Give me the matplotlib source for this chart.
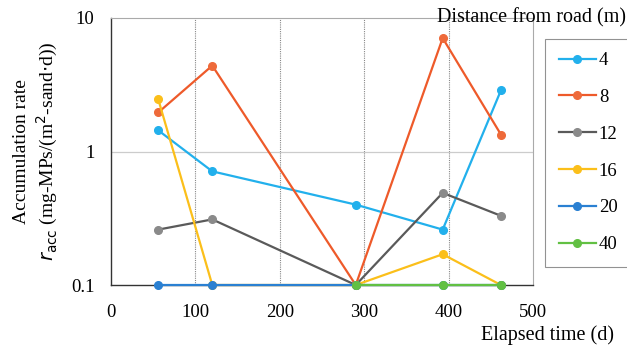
import numpy as np
import matplotlib.pyplot as plt

plt.rcParams['font.family'] = ['Liberation Serif', 'DejaVu Serif']

# elapsed time (d)
days = [56, 120, 290, 393, 462]
days_40 = [290, 393, 462]

# accumulation rate per distance from road (m)
r_4 = [1.44, 0.71, 0.40, 0.26, 2.87]
r_8 = [1.96, 4.4, 0.1, 7.07, 1.34]
r_12 = [0.26, 0.31, 0.1, 0.49, 0.33]
r_16 = [2.46, 0.1, 0.1, 0.17, 0.1]
r_20 = [0.1, 0.1, 0.1, 0.1, 0.1]
r_40 = [0.1, 0.1, 0.1]

labels = ['4', '8', '12', '16', '20', '40']
colors = ['#22b0ec', '#ee5a2a', '#5a5a5a', '#fbbf1a', '#2a80d2', '#62c043']
mfc = ['#22b0ec', '#ee6a3a', '#8a8a8a', '#fbbf1a', '#2a80d2', '#62c043']

fig = plt.figure(figsize=(6.27, 3.47), dpi=100)
ax = fig.add_axes([111/627, 1-285/347, (533-111)/627, (285-18)/347])

series = [(days, r_4), (days, r_8), (days, r_12), (days, r_16), (days, r_20), (days_40, r_40)]
for i, (x, y) in enumerate(series):
    ax.plot(x, y, color=colors[i], lw=1.6, marker='o', ms=5.5,
            mfc=mfc[i], mec=mfc[i], label=labels[i], zorder=3+i, clip_on=False)

ax.set_yscale('log')
ax.set_ylim(0.1, 10)
ax.set_xlim(0, 500)
ax.set_xticks([0, 100, 200, 300, 400, 500])
ax.set_yticks([0.1, 1, 10])
ax.set_yticklabels(['0.1', '1', '10'])
ax.minorticks_off()
ax.tick_params(length=0, labelsize=13.5)
ax.tick_params(axis='y', pad=12)
ax.tick_params(axis='x', pad=14)

for v in [100, 200, 300, 400]:
    ax.axvline(v, color='#888888', lw=0.8, ls=(0, (1, 1)), zorder=1)
ax.axhline(1, color='#cccccc', lw=0.9, zorder=1)

for s in ['top', 'right']:
    ax.spines[s].set_color('#aaaaaa')
    ax.spines[s].set_linewidth(0.8)
ax.spines['right'].set_linestyle((0, (1, 1)))
for s in ['left', 'bottom']:
    ax.spines[s].set_color('#333333')
    ax.spines[s].set_linewidth(1.0)

ax.set_ylabel('Accumulation rate\n$r_{\\mathrm{acc}}$ (mg-MPs/(m$^2$-sand$\\cdot$d))',
              fontsize=14, linespacing=1.3)
ax.yaxis.set_label_coords(-0.12, 0.5)
fig.text(0.98, 0.035, 'Elapsed time (d)', ha='right', va='center', fontsize=14.5)
fig.text(0.999, 0.948, 'Distance from road (m)', ha='right', va='center', fontsize=14.5)

# legend box runs past the right edge like in the scan
leg = fig.legend(loc='upper left', bbox_to_anchor=(545/627, 1-42/347, 0.16, 0.01),
                 mode='expand', borderaxespad=0, frameon=True, fancybox=False,
                 fontsize=13.5, handlelength=2.0, handletextpad=0.15,
                 labelspacing=1.05, borderpad=0.72)
leg.get_frame().set_edgecolor('#777777')
leg.get_frame().set_linewidth(0.8)

fig.savefig('out.png', dpi=100)
